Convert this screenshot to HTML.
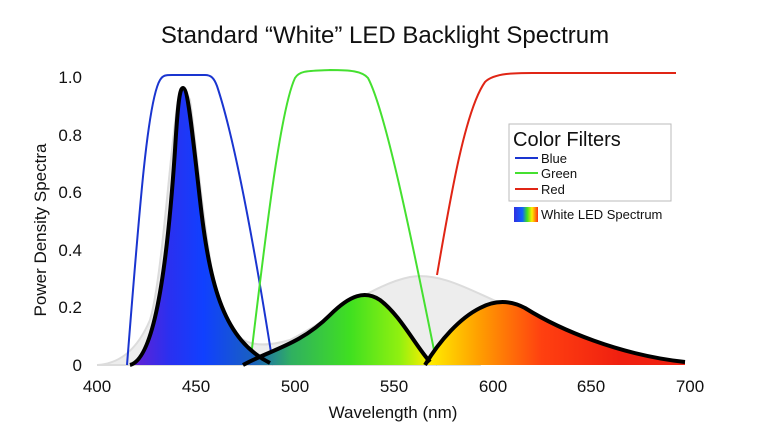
<!DOCTYPE html>
<html><head><meta charset="utf-8"><style>
html,body{margin:0;padding:0;background:#fff;}
svg{display:block;font-family:"Liberation Sans",sans-serif;}
</style></head><body>
<svg width="770" height="433" viewBox="0 0 770 433" xmlns="http://www.w3.org/2000/svg">
<defs>
<linearGradient id="sp" gradientUnits="userSpaceOnUse" x1="130" y1="0" x2="620" y2="0">
<stop offset="0" stop-color="#6a1fd0"/>
<stop offset="0.08" stop-color="#2a30f0"/>
<stop offset="0.15" stop-color="#1040ff"/>
<stop offset="0.25" stop-color="#1a60c0"/>
<stop offset="0.33" stop-color="#30b060"/>
<stop offset="0.45" stop-color="#40e020"/>
<stop offset="0.55" stop-color="#90f010"/>
<stop offset="0.61" stop-color="#ffee00"/>
<stop offset="0.71" stop-color="#ffa000"/>
<stop offset="0.84" stop-color="#ff4010"/>
<stop offset="1" stop-color="#f02010"/>
</linearGradient>
<linearGradient id="lg" x1="0" y1="0" x2="1" y2="0">
<stop offset="0" stop-color="#3030e0"/><stop offset="0.35" stop-color="#1060ff"/>
<stop offset="0.55" stop-color="#40e020"/><stop offset="0.75" stop-color="#ffee00"/>
<stop offset="1" stop-color="#ff3010"/>
</linearGradient>
</defs>
<text x="385" y="43" font-size="24" text-anchor="middle" fill="#111">Standard “White” LED Backlight Spectrum</text>
<!-- grey background -->
<path d="M97,365 C115,364 135,355 150,320 C162,280 170,150 178,100 C181,90 186,90 190,100 C196,140 205,250 220,310 C235,345 255,350 290,340 C330,320 370,285 410,277 C440,272 470,290 500,303 L480,365 Z" fill="#ededed" stroke="#dcdcdc" stroke-width="2"/>
<!-- filters -->
<path d="M127,365 C140,200 148,100 160,80 C163,75 166,75 172,75 L205,75 C211,75 214,78 217,86 C235,140 255,250 273,365" fill="none" stroke="#1a35d0" stroke-width="2"/>
<path d="M250,365 C265,240 280,110 295,78 C300,70 310,71 330,70 C350,70 362,71 368,78 C385,110 410,230 437,365" fill="none" stroke="#45e030" stroke-width="2"/>
<path d="M437,275 C450,200 465,110 485,82 C495,72 520,73 540,73 L676,73" fill="none" stroke="#e02515" stroke-width="2"/>
<!-- spectrum fills -->
<path d="M130,365 C150,360 165,300 175,150 C178,100 180,88 183,88 C188,88 192,130 200,200 C210,290 225,340 270,363 L270,365 Z" fill="url(#sp)"/>
<path d="M243,365 C270,350 300,345 330,315 C350,295 365,290 380,300 C400,315 415,345 430,362 L430,365 Z" fill="url(#sp)"/>
<path d="M425,365 C440,340 460,318 480,308 C495,300 510,300 525,308 C560,330 620,355 685,362 L685,365 Z" fill="url(#sp)"/>
<g fill="none" stroke="#000" stroke-width="4" stroke-linejoin="round">
<path d="M130,365 C150,360 165,300 175,150 C178,100 180,88 183,88 C188,88 192,130 200,200 C210,290 225,340 270,363"/>
<path d="M243,365 C270,350 300,345 330,315 C350,295 365,290 380,300 C400,315 415,345 430,362"/>
<path d="M425,365 C440,340 460,318 480,308 C495,300 510,300 525,308 C560,330 620,355 685,362"/>
</g>
<!-- y labels -->
<g font-size="17" fill="#111" text-anchor="end">
<text x="82" y="83">1.0</text><text x="82" y="141">0.8</text><text x="82" y="198">0.6</text>
<text x="82" y="256">0.4</text><text x="82" y="313">0.2</text><text x="82" y="371">0</text>
</g>
<g font-size="17" fill="#111" text-anchor="middle">
<text x="97" y="392">400</text><text x="196" y="392">450</text><text x="295" y="392">500</text>
<text x="394" y="392">550</text><text x="493" y="392">600</text><text x="591" y="392">650</text>
<text x="690" y="392">700</text>
<text x="393" y="418">Wavelength (nm)</text>
<text transform="translate(46,230) rotate(-90)">Power Density Spectra</text>
</g>
<!-- legend -->
<rect x="509" y="124" width="162" height="77" fill="#fff" stroke="#bbb" stroke-width="1"/>
<text x="513" y="146" font-size="20" fill="#111">Color Filters</text>
<line x1="515" y1="158" x2="538" y2="158" stroke="#1a35d0" stroke-width="2"/>
<line x1="515" y1="173" x2="538" y2="173" stroke="#45e030" stroke-width="2"/>
<line x1="515" y1="189" x2="538" y2="189" stroke="#e02515" stroke-width="2"/>
<g font-size="13" fill="#111">
<text x="541" y="163">Blue</text><text x="541" y="178">Green</text><text x="541" y="194">Red</text>
<text x="541" y="219">White LED Spectrum</text>
</g>
<rect x="514" y="207" width="24" height="15" fill="url(#lg)"/>
</svg>
</body></html>
